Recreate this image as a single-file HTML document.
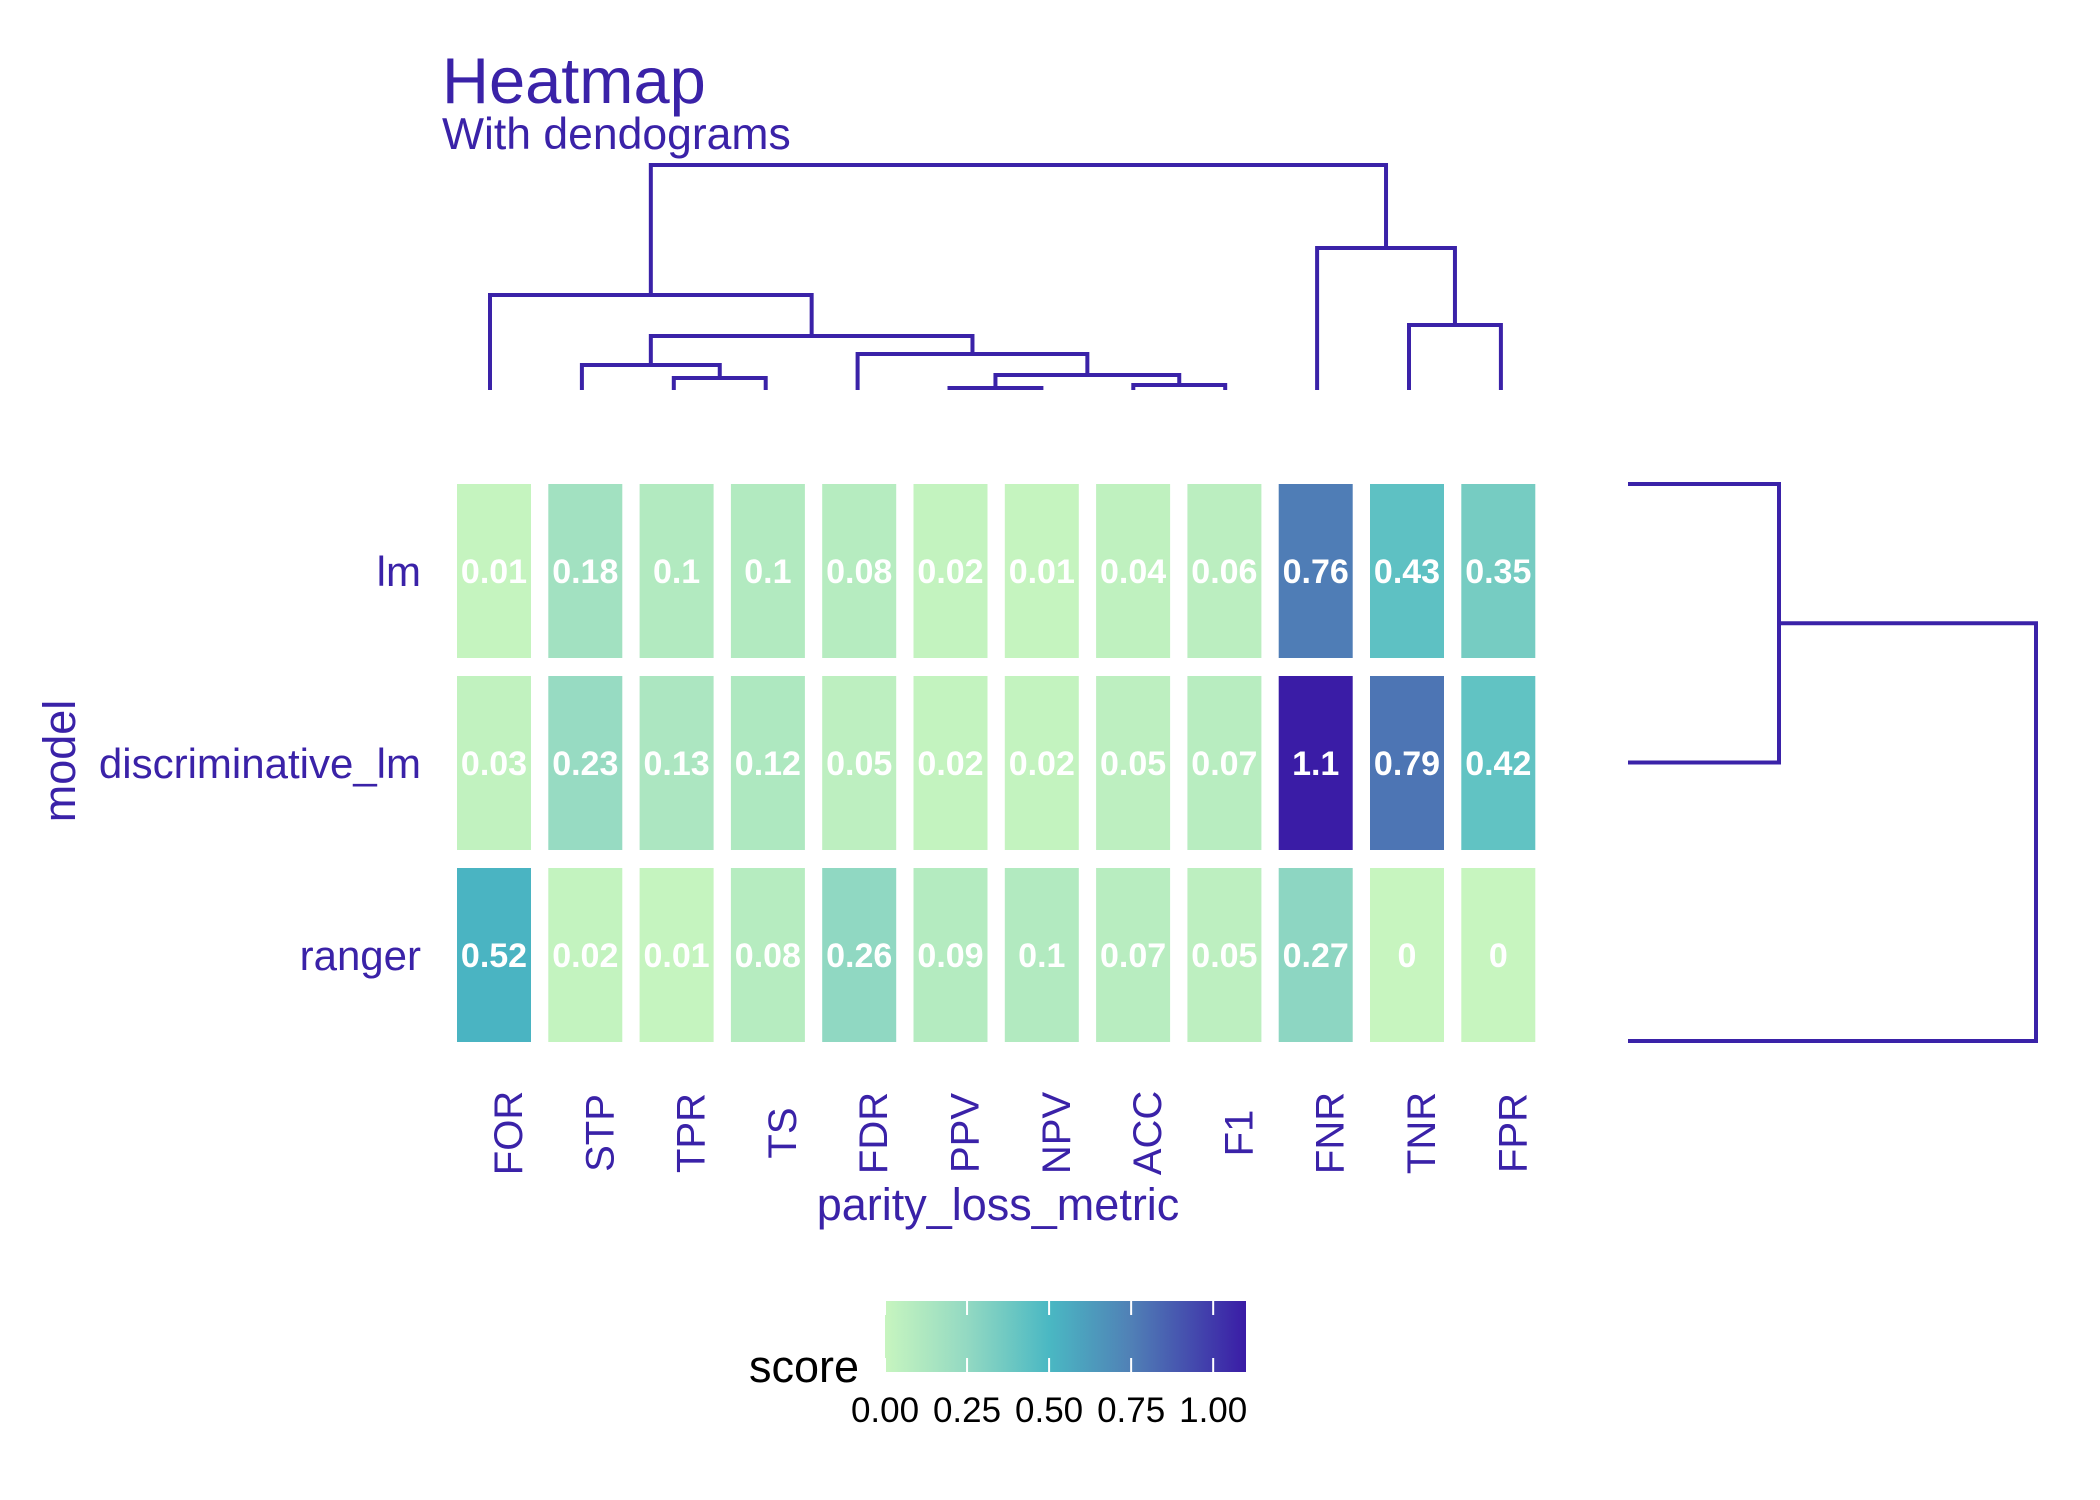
<!DOCTYPE html>
<html><head><meta charset="utf-8">
<style>
html,body{margin:0;padding:0;background:#fff;}
svg{display:block;font-family:"Liberation Sans",Arial,sans-serif;}
</style></head>
<body>
<svg id="chart" width="2100" height="1500" viewBox="0 0 2100 1500">
<defs>
<linearGradient id="cbar" x1="0" x2="1" y1="0" y2="0">
<stop offset="0" stop-color="#c7f5bf"/>
<stop offset="0.227" stop-color="#93d9c2"/>
<stop offset="0.455" stop-color="#4ab8c3"/>
<stop offset="0.682" stop-color="#5080b6"/>
<stop offset="1" stop-color="#3a1ca6"/>
</linearGradient>
</defs>
<text x="442" y="103" font-size="65" fill="#3a22a8">Heatmap</text>
<text x="442" y="149" font-size="44.5" fill="#3a22a8">With dendograms</text>
<g id="cells"></g>
<g id="xlabels"></g>
<g id="ylabels"></g>
<g id="dtop"></g>
<g id="dright"></g>
<text x="998" y="1220" font-size="45" fill="#3a22a8" text-anchor="middle">parity_loss_metric</text>
<text transform="translate(75,761) rotate(-90)" font-size="45" fill="#3a22a8" text-anchor="middle">model</text>
<g>
<rect x="885" y="1301" width="361" height="71" fill="url(#cbar)"/>
<g id="cticks"></g>
<text x="749" y="1382" font-size="45" fill="#000">score</text>
</g>
</svg>
<script>
const columns = ["FOR","STP","TPR","TS","FDR","PPV","NPV","ACC","F1","FNR","TNR","FPR"];
const rows = ["lm","discriminative_lm","ranger"];
const valuesLm = [0.01,0.18,0.1,0.1,0.08,0.02,0.01,0.04,0.06,0.76,0.43,0.35];
const valuesDisc = [0.03,0.23,0.13,0.12,0.05,0.02,0.02,0.05,0.07,1.1,0.79,0.42];
const valuesRanger = [0.52,0.02,0.01,0.08,0.26,0.09,0.1,0.07,0.05,0.27,0,0];
const legendTicks = [0,0.25,0.5,0.75,1.0];
const legendTickLabels = ["0.00","0.25","0.50","0.75","1.00"];
// column dendrogram merges (ids >= 12 refer to earlier merges)
const colMergeA = [2,5,7,13,4,1,16,0,10,9,19];
const colMergeB = [3,6,8,14,15,12,17,18,11,20,21];
const colMergeH = [12,2,5,15,36,25,54,95,65,142,225];
// row dendrogram merges
const rowMergeA = [0,3];
const rowMergeB = [1,2];
const rowMergeH = [151,408];

const NS="http://www.w3.org/2000/svg";
const C="#3a22a8";
const matrix=[valuesLm,valuesDisc,valuesRanger];
const colX=i=>494+91.3*i;
const leafX=i=>490+91.9*i;
const rowY=j=>571+192*j;
const cellW=74, cellH=174;
const vmax=1.1;
const stops=[[0,[199,245,191]],[0.25,[147,217,194]],[0.5,[74,184,195]],[0.75,[80,128,182]],[1.1,[58,28,166]]];
function color(v){
  for(let k=1;k<stops.length;k++){
    if(v<=stops[k][0]){const a=stops[k-1],b=stops[k];const t=(v-a[0])/(b[0]-a[0]);
      const c=a[1].map((x,i)=>Math.round(x+(b[1][i]-x)*t));return `rgb(${c})`;}
  }
  return "rgb(58,28,166)";
}
function el(tag,attrs,parent){const e=document.createElementNS(NS,tag);for(const k in attrs)e.setAttribute(k,attrs[k]);parent.appendChild(e);return e;}
const gc=document.getElementById("cells");
matrix.forEach((vals,j)=>{vals.forEach((v,i)=>{
  const r=el("rect",{x:colX(i)-cellW/2,y:rowY(j)-cellH/2,width:cellW,height:cellH,fill:color(v)},gc);
  
  
  const t=el("text",{x:colX(i),y:rowY(j)+12,"font-size":34,"font-weight":"bold",fill:"#fff","text-anchor":"middle"},gc);
  t.textContent=String(v);
  
  
});});
const gx=document.getElementById("xlabels");
columns.forEach((c,i)=>{
  const t=el("text",{transform:`translate(${colX(i)+28},1133) rotate(-90)`,"font-size":40,fill:C,"text-anchor":"middle"},gx);
  t.textContent=c;
  
  
});
const gy=document.getElementById("ylabels");
rows.forEach((r,j)=>{
  const t=el("text",{x:421,y:rowY(j)+15,"font-size":42,fill:C,"text-anchor":"end"},gy);
  t.textContent=r;
  
  
});
const lx=v=>885+361*v/vmax;
const gt=document.getElementById("cticks");
legendTicks.forEach((v,k)=>{
  const a=el("line",{x1:lx(v),x2:lx(v),y1:1301,y2:1315,stroke:"#fff","stroke-width":2},gt);
  
  
  const b=el("line",{x1:lx(v),x2:lx(v),y1:1358,y2:1372,stroke:"#fff","stroke-width":2},gt);
  
  
  const t=el("text",{x:lx(v),y:1422,"font-size":35,fill:"#000","text-anchor":"middle"},gt);
  t.textContent=legendTickLabels[k];
  
  
});
(function(){
  const g=document.getElementById("dtop");
  const base=390;
  const pos={},hgt={};
  columns.forEach((c,i)=>{pos[i]=leafX(i);hgt[i]=0;});
  colMergeA.forEach((a,k)=>{
    const b=colMergeB[k],h=colMergeH[k],id=12+k;
    const y=base-h;
    const p=el("path",{d:`M${pos[a]},${base-hgt[a]}V${y}H${pos[b]}V${base-hgt[b]}`,fill:"none",stroke:C,"stroke-width":4},g);
    
    
    pos[id]=(pos[a]+pos[b])/2;hgt[id]=h;
  });
})();
(function(){
  const g=document.getElementById("dright");
  const base=1628;
  const pos={},hgt={};
  rows.forEach((r,j)=>{pos[j]=484+278.5*j;hgt[j]=0;});
  rowMergeA.forEach((a,k)=>{
    const b=rowMergeB[k],h=rowMergeH[k],id=3+k;
    const x=base+h;
    const p=el("path",{d:`M${base+hgt[a]},${pos[a]}H${x}V${pos[b]}H${base+hgt[b]}`,fill:"none",stroke:C,"stroke-width":4},g);
    
    
    pos[id]=(pos[a]+pos[b])/2;hgt[id]=h;
  });
})();
</script>
</body></html>
